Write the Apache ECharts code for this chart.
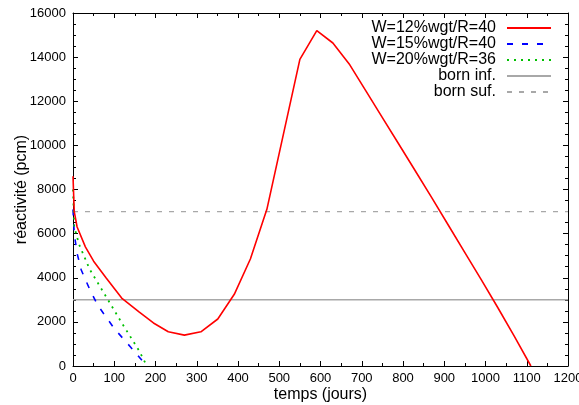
<!DOCTYPE html>
<html>
<head>
<meta charset="utf-8">
<script src="https://cdn.jsdelivr.net/npm/echarts@6/dist/echarts.min.js"></script>
<style>
html,body{margin:0;padding:0;background:#fff;}
#chart{width:579px;height:405px;}
</style>
</head>
<body>
<div id="chart"></div>
<script>
// ---- data ----
const seriesNames = ['W=12%wgt/R=40', 'W=15%wgt/R=40', 'W=20%wgt/R=36', 'born inf.', 'born suf.'];
const redDays  = [0, 3, 10, 30, 50, 80, 118, 160, 195, 231, 270, 310, 351, 391, 430, 470, 510, 550, 591, 630, 671, 710, 750, 790, 830, 870, 910, 950, 990, 1030, 1070, 1110];
const redReact = [8600, 7000, 6300, 5400, 4750, 4000, 3080, 2450, 1950, 1550, 1400, 1550, 2130, 3250, 4850, 7100, 10500, 13900, 15200, 14640, 13650, 12470, 11260, 10050, 8840, 7620, 6380, 5140, 3900, 2640, 1340, 0];
const blueDays  = [0, 3, 10, 20, 40, 60, 100, 140, 179];
const blueReact = [7100, 6000, 5100, 4350, 3500, 2750, 1700, 850, 0];
const greenDays  = [0, 3, 15, 40, 80, 120, 160, 179];
const greenReact = [8000, 6300, 5500, 4400, 3150, 1900, 700, 0];
const bornInfDays = [0, 1200];
const bornInfReact = [3000, 3000];
const bornSufDays = [0, 1200];
const bornSufReact = [7000, 7000];
const xTicks = [0, 100, 200, 300, 400, 500, 600, 700, 800, 900, 1000, 1100, 1200];
const yTicks = [0, 2000, 4000, 6000, 8000, 10000, 12000, 14000, 16000];

const pairs = (xs, ys) => xs.map((x, i) => [x, ys[i]]);
const FONT = '"Liberation Sans", Arial, Helvetica, sans-serif';
const plain = v => String(v);

const chart = echarts.init(document.getElementById('chart'), null, {renderer: 'canvas'});

const baseX = {
  type: 'value', min: xTicks[0], max: xTicks[xTicks.length - 1], interval: 100,
  axisLine: {show: true, onZero: false, lineStyle: {color: '#000', width: 1}},
  axisTick: {show: true, inside: true, length: 5, lineStyle: {color: '#000'}},
  minorTick: {show: true, splitNumber: 2, length: 3, lineStyle: {color: '#000'}},
  splitLine: {show: false}
};
const baseY = {
  type: 'value', min: yTicks[0], max: yTicks[yTicks.length - 1], interval: 2000,
  axisLine: {show: true, onZero: false, lineStyle: {color: '#000', width: 1}},
  axisTick: {show: true, inside: true, length: 5, lineStyle: {color: '#000'}},
  minorTick: {show: true, splitNumber: 4, length: 3, lineStyle: {color: '#000'}},
  splitLine: {show: false}
};

const option = {
  animation: false,
  backgroundColor: '#fff',
  textStyle: {fontFamily: FONT},
  grid: {left: 73, right: 11, top: 13, bottom: 39, containLabel: false, outerBoundsMode: 'none'},
  legend: {
    orient: 'vertical', align: 'right', right: 22, top: 15,
    itemWidth: 44, itemHeight: 10, itemGap: 0,
    itemStyle: {opacity: 0},
    textStyle: {fontFamily: FONT, fontSize: 16, color: '#000', lineHeight: 15.6, padding: [0, 6, 0, 0]},
    data: seriesNames
  },
  xAxis: [
    Object.assign({}, baseX, {
      position: 'bottom', name: 'temps (jours)', nameLocation: 'middle', nameGap: 21, nameMoveOverlap: false,
      nameTextStyle: {fontFamily: FONT, fontSize: 16, color: '#000'},
      axisLabel: {show: true, margin: 6, fontFamily: FONT, fontSize: 13, color: '#000', formatter: plain}
    }),
    Object.assign({}, baseX, {position: 'top', axisLabel: {show: false}})
  ],
  yAxis: [
    Object.assign({}, baseY, {
      position: 'left', name: 'réactivité (pcm)', nameLocation: 'middle', nameGap: 43, nameMoveOverlap: false,
      nameTextStyle: {fontFamily: FONT, fontSize: 16, color: '#000'},
      axisLabel: {show: true, margin: 7, fontFamily: FONT, fontSize: 13, color: '#000', formatter: plain}
    }),
    Object.assign({}, baseY, {position: 'right', axisLabel: {show: false}})
  ],
  series: [
    {name: seriesNames[0], type: 'line', data: pairs(redDays, redReact), showSymbol: false, symbol: 'none',
     lineStyle: {color: '#ff0000', width: 1.6}, itemStyle: {color: '#ff0000'}, z: 5},
    {name: seriesNames[1], type: 'line', data: pairs(blueDays, blueReact), showSymbol: false, symbol: 'none',
     lineStyle: {color: '#0000ff', width: 1.6, type: [6, 9]}, itemStyle: {color: '#0000ff'}, z: 4},
    {name: seriesNames[2], type: 'line', data: pairs(greenDays, greenReact), showSymbol: false, symbol: 'none',
     lineStyle: {color: '#00c000', width: 1.8, type: [2, 5]}, itemStyle: {color: '#00c000'}, z: 4},
    {name: seriesNames[3], type: 'line', data: pairs(bornInfDays, bornInfReact), showSymbol: false, symbol: 'none',
     lineStyle: {color: '#a8a8a8', width: 1.5}, itemStyle: {color: '#a8a8a8'}, z: 3},
    {name: seriesNames[4], type: 'line', data: pairs(bornSufDays, bornSufReact), showSymbol: false, symbol: 'none',
     lineStyle: {color: '#a8a8a8', width: 1.2, type: [5, 7]}, itemStyle: {color: '#a8a8a8'}, z: 3}
  ]
};
chart.setOption(option);
</script>
</body>
</html>
